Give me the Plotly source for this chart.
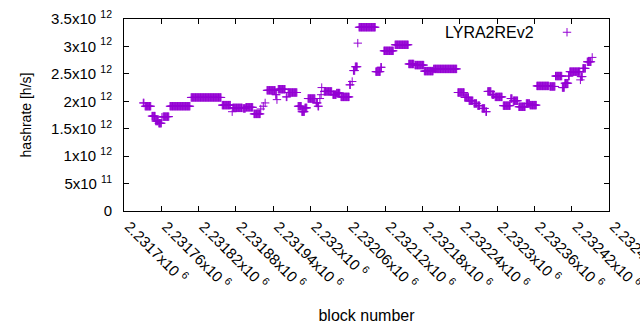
import plotly.graph_objects as go

# ---- data: runs of consecutive blocks sharing the same hashrate estimate ----
run_first = [2231731, 2231734, 2231745, 2231751, 2231756, 2231761, 2231763, 2231774,
             2231808, 2231858, 2231874, 2231875, 2231892, 2231896, 2231909, 2231920,
             2231924, 2231927, 2231930, 2231944, 2231946, 2231948, 2231961, 2231964,
             2231980, 2231986, 2231991, 2231996, 2232009, 2232012, 2232015, 2232017,
             2232018, 2232022, 2232036, 2232042, 2232049, 2232063, 2232067, 2232069,
             2232072, 2232076, 2232078, 2232105, 2232113, 2232118, 2232136, 2232158,
             2232168, 2232183, 2232198, 2232237, 2232248, 2232255, 2232263, 2232269,
             2232276, 2232282, 2232285, 2232292, 2232297, 2232310, 2232322, 2232326,
             2232335, 2232347, 2232353, 2232364, 2232385, 2232394, 2232405, 2232409,
             2232415, 2232417, 2232434, 2232435, 2232438, 2232445, 2232453]
run_last = [2231732, 2231743, 2231750, 2231755, 2231760, 2231761, 2231772, 2231806,
            2231856, 2231871, 2231874, 2231890, 2231895, 2231907, 2231919, 2231920,
            2231924, 2231927, 2231943, 2231945, 2231946, 2231959, 2231962, 2231978,
            2231985, 2231990, 2231994, 2232007, 2232011, 2232013, 2232015, 2232017,
            2232018, 2232034, 2232041, 2232047, 2232062, 2232064, 2232067, 2232071,
            2232075, 2232076, 2232104, 2232112, 2232114, 2232133, 2232157, 2232166,
            2232182, 2232197, 2232235, 2232247, 2232254, 2232261, 2232267, 2232272,
            2232280, 2232283, 2232290, 2232295, 2232308, 2232321, 2232324, 2232333,
            2232345, 2232352, 2232363, 2232383, 2232393, 2232404, 2232408, 2232414,
            2232416, 2232433, 2232434, 2232437, 2232442, 2232451, 2232453]
run_hashrate_e12 = [1.97, 1.91, 1.73, 1.64, 1.60, 1.71, 1.72, 1.91,
                    2.07, 1.93, 1.81, 1.88, 1.87, 1.89, 1.77, 1.86,
                    1.91, 1.97, 2.20, 2.12, 2.03, 2.22, 2.08, 2.16,
                    1.91, 1.81, 1.88, 2.05, 1.97, 1.91, 2.05, 2.12,
                    2.25, 2.18, 2.12, 2.15, 2.08, 2.30, 2.36, 2.56,
                    2.63, 3.06, 3.35, 2.54, 2.62, 2.92, 3.03, 2.68,
                    2.66, 2.55, 2.59, 2.16, 2.07, 2.01, 1.96, 1.92,
                    1.87, 1.81, 2.18, 2.12, 2.08, 1.92, 2.05, 2.01,
                    1.90, 1.96, 1.93, 2.28, 2.27, 2.46, 2.25, 2.33,
                    2.46, 2.54, 2.39, 2.45, 2.60, 2.72, 2.80]

x_tick_values = [2231700, 2231760, 2231820, 2231880, 2231940, 2232000, 2232060,
                 2232120, 2232180, 2232240, 2232300, 2232360, 2232420, 2232480]
x_tick_labels = ["2.2317", "2.23176", "2.23182", "2.23188", "2.23194", "2.232", "2.23206",
                 "2.23212", "2.23218", "2.23224", "2.2323", "2.23236", "2.23242", "2.23248"]
y_tick_values = [0, 0.5e12, 1e12, 1.5e12, 2e12, 2.5e12, 3e12, 3.5e12]
y_tick_mantissa = ["0", "5", "1", "1.5", "2", "2.5", "3", "3.5"]
y_tick_exponent = [None, "11", "12", "12", "12", "12", "12", "12"]

series_name = "LYRA2REv2"

# ---- expand runs into one point per block ----
blocks, hashrate = [], []
for a, b, v in zip(run_first, run_last, run_hashrate_e12):
    for blk in range(a, b + 1):
        blocks.append(blk)
        hashrate.append(v * 1e12)

COLOR = "#9400D3"
FONT = "Liberation Sans"

fig = go.Figure()
fig.add_trace(go.Scatter(
    x=blocks, y=hashrate, mode="markers", name="",
    marker=dict(symbol="cross-thin", size=6, color=COLOR,
                line=dict(color=COLOR, width=1)),
    showlegend=True,
))

y_text = [m if e is None else f"{m}x10 <sup>{e}</sup>" for m, e in zip(y_tick_mantissa, y_tick_exponent)]
x_text = [f"{t}x10 <sup>6</sup>" for t in x_tick_labels]

PL, PR, PT, PB = 124, 609, 19, 211
PW, PH = PR - PL, PB - PT

fig.update_layout(
    width=640, height=330,
    margin=dict(l=PL, r=640 - PR, t=PT, b=330 - PB),
    paper_bgcolor="white", plot_bgcolor="white",
    font=dict(family=FONT, size=15, color="black"),
    showlegend=True,
    legend=dict(x=(569 - 22 - PL) / PW, y=1 + 3 / PH, xanchor="left", yanchor="top",
                bgcolor="rgba(0,0,0,0)", borderwidth=0,
                font=dict(size=15)),
    annotations=[dict(text=series_name, xref="paper", yref="paper",
                      x=(536 - PL) / PW, y=1 - (32 - PT) / PH,
                      xanchor="right", yanchor="middle", showarrow=False,
                      font=dict(family=FONT, size=16, color="black"))],
)
fig.update_xaxes(
    range=[2231700, 2232480], tickmode="array", tickvals=x_tick_values, ticktext=x_text,
    tickangle=45, ticks="inside", ticklen=5, tickcolor="black",
    showline=True, linecolor="black", linewidth=1, mirror="ticks",
    showgrid=False, zeroline=False, automargin=False, ticklabelstandoff=0,
    ticklabelshift=5, ticklabeloverflow="allow",
    title=dict(text="block number", font=dict(size=16), standoff=18),
)
fig.update_yaxes(
    range=[0, 3.5e12], tickmode="array", tickvals=y_tick_values, ticktext=y_text,
    ticks="inside", ticklen=5, tickcolor="black",
    showline=True, linecolor="black", linewidth=1, mirror="ticks",
    showgrid=False, zeroline=False, ticklabelstandoff=8, automargin=False,
    title=dict(text="hashrate [h/s]", font=dict(size=14), standoff=16),
)

fig.write_html("out.html")
